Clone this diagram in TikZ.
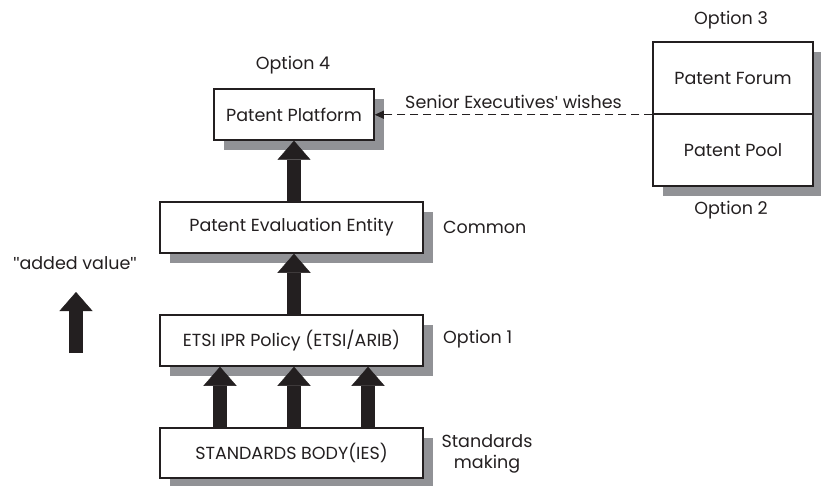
\documentclass[tikz,border=0pt]{standalone}
\usepackage{fontspec}
\setmainfont{Poppins}
\newfontfamily\qfont{Liberation Sans}
\usetikzlibrary{arrows.meta,shadows}
\definecolor{ink}{RGB}{35,31,32}
\definecolor{shade}{RGB}{145,146,150}
\newcommand{\dq}{{\qfont\symbol{34}}}
\newcommand{\sq}{{\qfont\symbol{39}}}
\tikzset{
  box/.style={draw=ink, line width=1.5pt, fill=white, text=ink, font=\fontsize{17.5}{21}\selectfont,
    inner sep=0pt, drop shadow={shadow xshift=10pt, shadow yshift=-10pt, fill=shade, opacity=1}},
  lbl/.style={text=ink, font=\fontsize{17.5}{21}\selectfont, inner sep=0pt},
  fat/.style={draw=ink, line width=14pt, -{Triangle[length=19pt,width=33pt,line width=0.4pt]}},
  dasharrow/.style={draw=ink, line width=1pt, dash pattern=on 8pt off 5pt, -{Triangle[length=9pt,width=8pt]}}
}
\begin{document}
\begin{tikzpicture}[x=1pt,y=-1pt]
\useasboundingbox (0,0) rectangle (821,486);
% boxes
\node[box, minimum width=160pt, minimum height=51pt] (pp) at (294,114.5) {Patent Platform};
\node[box, minimum width=263pt, minimum height=51pt] (pee) at (291.5,227.5) {Patent Evaluation Entity};
\node[box, minimum width=263pt, minimum height=51pt] (etsi) at (291.5,340.5) {ETSI IPR Policy (ETSI/ARIB)};
\node[box, minimum width=263pt, minimum height=50pt] (std) at (291.5,453) {STANDARDS BODY(IES)};
\node[box, minimum width=160pt, minimum height=72pt] (forum) at (733,78) {Patent Forum};
\node[box, minimum width=160pt, minimum height=72pt] (pool) at (733,150) {Patent Pool};
% labels
\node[lbl] (o4) at (293,65) {Option 4};
\node[lbl] (o3) at (731,20) {Option 3};
\node[lbl] (o2) at (731,210) {Option 2};
\node[lbl, anchor=west] (common) at (443,227) {Common};
\node[lbl, anchor=west] (o1) at (443,339) {Option 1};
\node[lbl, align=center] (sm) at (487,454) {Standards\\making};
\node[lbl] (av) at (75,263) {\dq added value\dq};
% arrows
\draw[fat] ([xshift=-71.5pt]std.north) -- ([xshift=-71.5pt]etsi.south);
\draw[fat] ([xshift=2.5pt]std.north) -- ([xshift=2.5pt]etsi.south);
\draw[fat] ([xshift=76.5pt]std.north) -- ([xshift=76.5pt]etsi.south);
\draw[fat] ([xshift=2.5pt]etsi.north) -- ([xshift=2.5pt]pee.south);
\draw[fat] (pp.south |- pee.north) -- (pp.south);
\coordinate (avb) at (76,353);
\coordinate (avt) at (76,292);
\draw[fat] (avb) -- (avt);
\draw[dasharrow] (forum.south west) -- node[lbl, above=6pt] (sew) {Senior Executives\sq{} wishes} (pp.east |- forum.south west);
\end{tikzpicture}
\end{document}
